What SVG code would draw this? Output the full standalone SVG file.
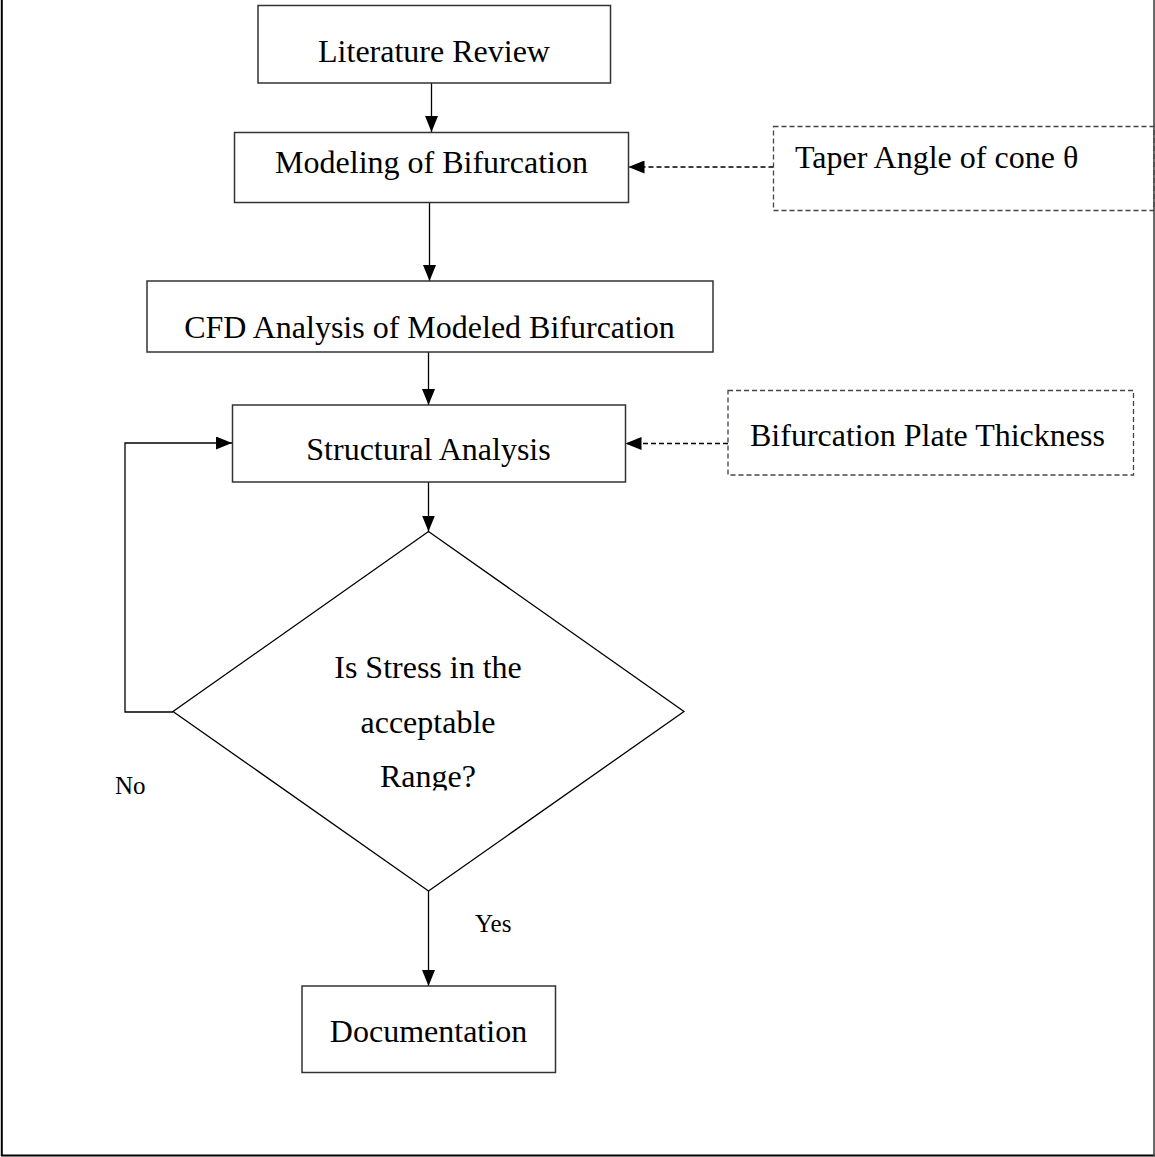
<svg xmlns="http://www.w3.org/2000/svg" width="1155" height="1157" viewBox="0 0 1155 1157">
<style>
.box{fill:#fff;stroke:#333;stroke-width:1.5}
.dbox{fill:none;stroke:#444;stroke-width:1.3;stroke-dasharray:5,3}
.t{font-family:"Liberation Serif","Times New Roman",serif;font-size:32px;fill:#000}
.c{text-anchor:middle}
.s{font-family:"Liberation Serif","Times New Roman",serif;font-size:25px;fill:#000}
.ln{fill:none;stroke:#000;stroke-width:1.3}
.dl{fill:none;stroke:#000;stroke-width:1.3;stroke-dasharray:5,3}
</style>
<defs>
<marker id="arr" viewBox="0 0 16 13" refX="16" refY="6.5" markerWidth="16" markerHeight="13" markerUnits="userSpaceOnUse" orient="auto">
<path d="M0,0 L16,6.5 L0,13 z" fill="#000"/>
</marker>
<clipPath id="dclip"><rect x="0" y="0" width="1155" height="790.5"/></clipPath>
</defs>
<rect width="1155" height="1157" fill="#fff"/>
<g id="frame">
<line x1="1.8" y1="0" x2="1.8" y2="1156" stroke="#000" stroke-width="2"/>
<line x1="1" y1="1155.5" x2="1155" y2="1155.5" stroke="#000" stroke-width="2"/>
<line x1="1154" y1="0" x2="1154" y2="1156" stroke="#444" stroke-width="1.6"/>
</g>
<g id="connectors">
<line class="ln" x1="431.5" y1="83" x2="431.5" y2="132" marker-end="url(#arr)"/>
<line class="ln" x1="429.5" y1="202" x2="429.5" y2="281" marker-end="url(#arr)"/>
<line class="ln" x1="428.5" y1="352" x2="428.5" y2="405" marker-end="url(#arr)"/>
<line class="ln" x1="428.5" y1="482" x2="428.5" y2="531.5" marker-end="url(#arr)"/>
<line class="ln" x1="428.5" y1="891" x2="428.5" y2="986" marker-end="url(#arr)"/>
<polyline class="ln" points="173,712 125,712 125,443 232,443" marker-end="url(#arr)"/>
<line class="dl" x1="773.5" y1="167" x2="628.5" y2="167" marker-end="url(#arr)"/>
<line class="dl" x1="728" y1="443.5" x2="625.5" y2="443.5" marker-end="url(#arr)"/>
</g>
<g id="literature-review">
<rect class="box" x="258" y="5.5" width="352.5" height="77.5"/>
<text class="t c" x="434" y="62">Literature Review</text>
</g>
<g id="modeling">
<rect class="box" x="234.5" y="132.5" width="394" height="70"/>
<text class="t c" x="431.5" y="173">Modeling of Bifurcation</text>
</g>
<g id="taper-angle">
<rect class="dbox" x="773.5" y="126.5" width="380.5" height="84"/>
<text class="t" x="795" y="168">Taper Angle of cone θ</text>
</g>
<g id="cfd">
<rect class="box" x="147" y="281" width="566" height="71"/>
<text class="t c" x="429.5" y="338">CFD Analysis of Modeled Bifurcation</text>
</g>
<g id="structural">
<rect class="box" x="232.5" y="405" width="393" height="77"/>
<text class="t c" x="428.5" y="460">Structural Analysis</text>
</g>
<g id="plate-thickness">
<rect class="dbox" x="728" y="390.5" width="405.5" height="84.5"/>
<text class="t" x="750" y="446">Bifurcation Plate Thickness</text>
</g>
<g id="decision">
<polygon points="428.5,531.5 684,711.5 428.5,891 173,711.5" fill="none" stroke="#000" stroke-width="1.3"/>
<g clip-path="url(#dclip)">
<text class="t c" x="428" y="678">Is Stress in the</text>
<text class="t c" x="428" y="732.5">acceptable</text>
<text class="t c" x="428" y="787">Range?</text>
</g>
</g>
<g id="labels">
<text class="s" x="115" y="794">No</text>
<text class="s" x="475" y="931.5">Yes</text>
</g>
<g id="documentation">
<rect class="box" x="302" y="986" width="253.5" height="86.5"/>
<text class="t c" x="428.5" y="1042">Documentation</text>
</g>
</svg>
